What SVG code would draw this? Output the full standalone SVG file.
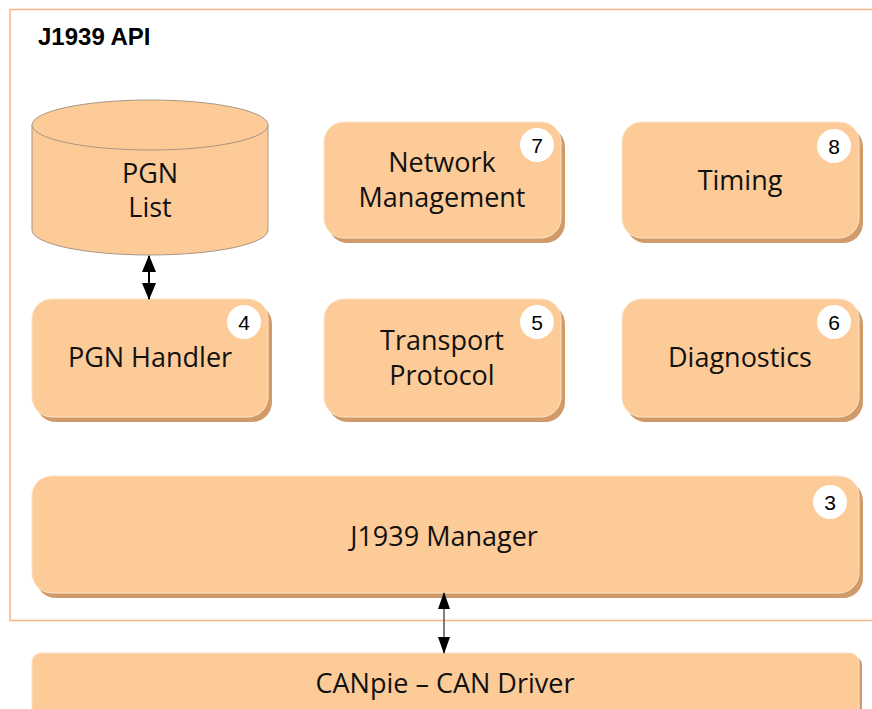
<svg xmlns="http://www.w3.org/2000/svg" width="872" height="709" viewBox="0 0 872 709">
  <defs>
    <style>
      .box { fill: #FDCB98; stroke: #FCE2C6; stroke-width: 1; }
      .shadow { fill: #D09B69; }
      .lbl { font-family: "Open Sans", "DejaVu Sans", sans-serif; font-size: 27px; fill: #111; text-anchor: middle; }
      .badge { fill: #fff; }
      .num { font-family: "Liberation Sans", Arial, sans-serif; font-size: 21px; fill: #000; text-anchor: middle; }
      .title { font-family: "Liberation Sans", Arial, sans-serif; font-size: 24px; font-weight: bold; fill: #000; }
    </style>
    <marker id="ah" viewBox="0 0 17 14" refX="16" refY="7" markerWidth="17" markerHeight="14" markerUnits="userSpaceOnUse" orient="auto-start-reverse">
      <path d="M0,0 L17,7 L0,14 z" fill="#000"/>
    </marker>
    <marker id="ah2" viewBox="0 0 17 12" refX="16" refY="6" markerWidth="17" markerHeight="12" markerUnits="userSpaceOnUse" orient="auto-start-reverse">
      <path d="M0,0 L17,6 L0,12 z" fill="#000"/>
    </marker>
  </defs>

  <rect x="0" y="0" width="872" height="709" fill="#fff"/>

  <!-- outer frame -->
  <g id="frame">
    <rect x="10" y="9.5" width="880" height="611" fill="none" stroke="#F9B387" stroke-width="1.5"/>
    <text class="title" x="38" y="45">J1939 API</text>
  </g>

  <g id="pgn-list">
    <path d="M32,125 L32,230 A118,25 0 0 0 268,230 L268,125 Z" fill="#FDCB98" stroke="#A89684" stroke-width="1"/>
    <ellipse cx="150" cy="125" rx="118" ry="25" fill="#FDCB98" stroke="#A89684" stroke-width="1"/>
    <text class="lbl" x="150" y="183">PGN</text>
    <text class="lbl" x="150" y="217">List</text>
  </g>

  <g id="network-management">
    <rect class="shadow" x="328" y="127" width="237" height="116" rx="20"/>
    <rect class="box" x="324" y="122" width="237" height="116" rx="20"/>
    <circle class="badge" cx="537" cy="145" r="17"/>
    <text class="num" x="537" y="152.5">7</text>
    <text class="lbl" x="442" y="172">Network</text>
    <text class="lbl" x="442" y="207">Management</text>
  </g>

  <g id="timing">
    <rect class="shadow" x="626" y="127" width="237" height="116" rx="20"/>
    <rect class="box" x="622" y="122" width="237" height="116" rx="20"/>
    <circle class="badge" cx="834" cy="146" r="17"/>
    <text class="num" x="834" y="153.5">8</text>
    <text class="lbl" x="740" y="190">Timing</text>
  </g>

  <g id="pgn-handler">
    <rect class="shadow" x="36" y="304" width="236" height="118" rx="20"/>
    <rect class="box" x="32" y="299" width="236" height="118" rx="20"/>
    <circle class="badge" cx="244" cy="322" r="17"/>
    <text class="num" x="244" y="329.5">4</text>
    <text class="lbl" x="150" y="367">PGN Handler</text>
  </g>

  <g id="transport-protocol">
    <rect class="shadow" x="328" y="304" width="237" height="118" rx="20"/>
    <rect class="box" x="324" y="299" width="237" height="118" rx="20"/>
    <circle class="badge" cx="537" cy="322" r="17"/>
    <text class="num" x="537" y="329.5">5</text>
    <text class="lbl" x="442" y="350">Transport</text>
    <text class="lbl" x="442" y="385">Protocol</text>
  </g>

  <g id="diagnostics">
    <rect class="shadow" x="626" y="304" width="237" height="118" rx="20"/>
    <rect class="box" x="622" y="299" width="237" height="118" rx="20"/>
    <circle class="badge" cx="834" cy="322" r="17"/>
    <text class="num" x="834" y="329.5">6</text>
    <text class="lbl" x="740" y="367">Diagnostics</text>
  </g>

  <g id="j1939-manager">
    <rect class="shadow" x="36" y="481" width="827" height="117" rx="20"/>
    <rect class="box" x="32" y="476" width="827" height="117" rx="20"/>
    <circle class="badge" cx="830" cy="502" r="17"/>
    <text class="num" x="830" y="509.5">3</text>
    <text class="lbl" x="444" y="546">J1939 Manager</text>
  </g>

  <g id="canpie-driver">
    <rect class="shadow" x="35" y="656" width="827" height="80" rx="9"/>
    <rect class="box" x="32" y="653" width="827" height="80" rx="9"/>
    <text class="lbl" x="445" y="693">CANpie – CAN Driver</text>
  </g>

  <g id="connectors">
    <line x1="149" y1="256" x2="149" y2="299" stroke="#000" stroke-width="2" marker-start="url(#ah)" marker-end="url(#ah)"/>
    <line x1="444" y1="593" x2="444" y2="653" stroke="#555" stroke-width="1.5" marker-start="url(#ah2)" marker-end="url(#ah2)"/>
  </g>
</svg>
